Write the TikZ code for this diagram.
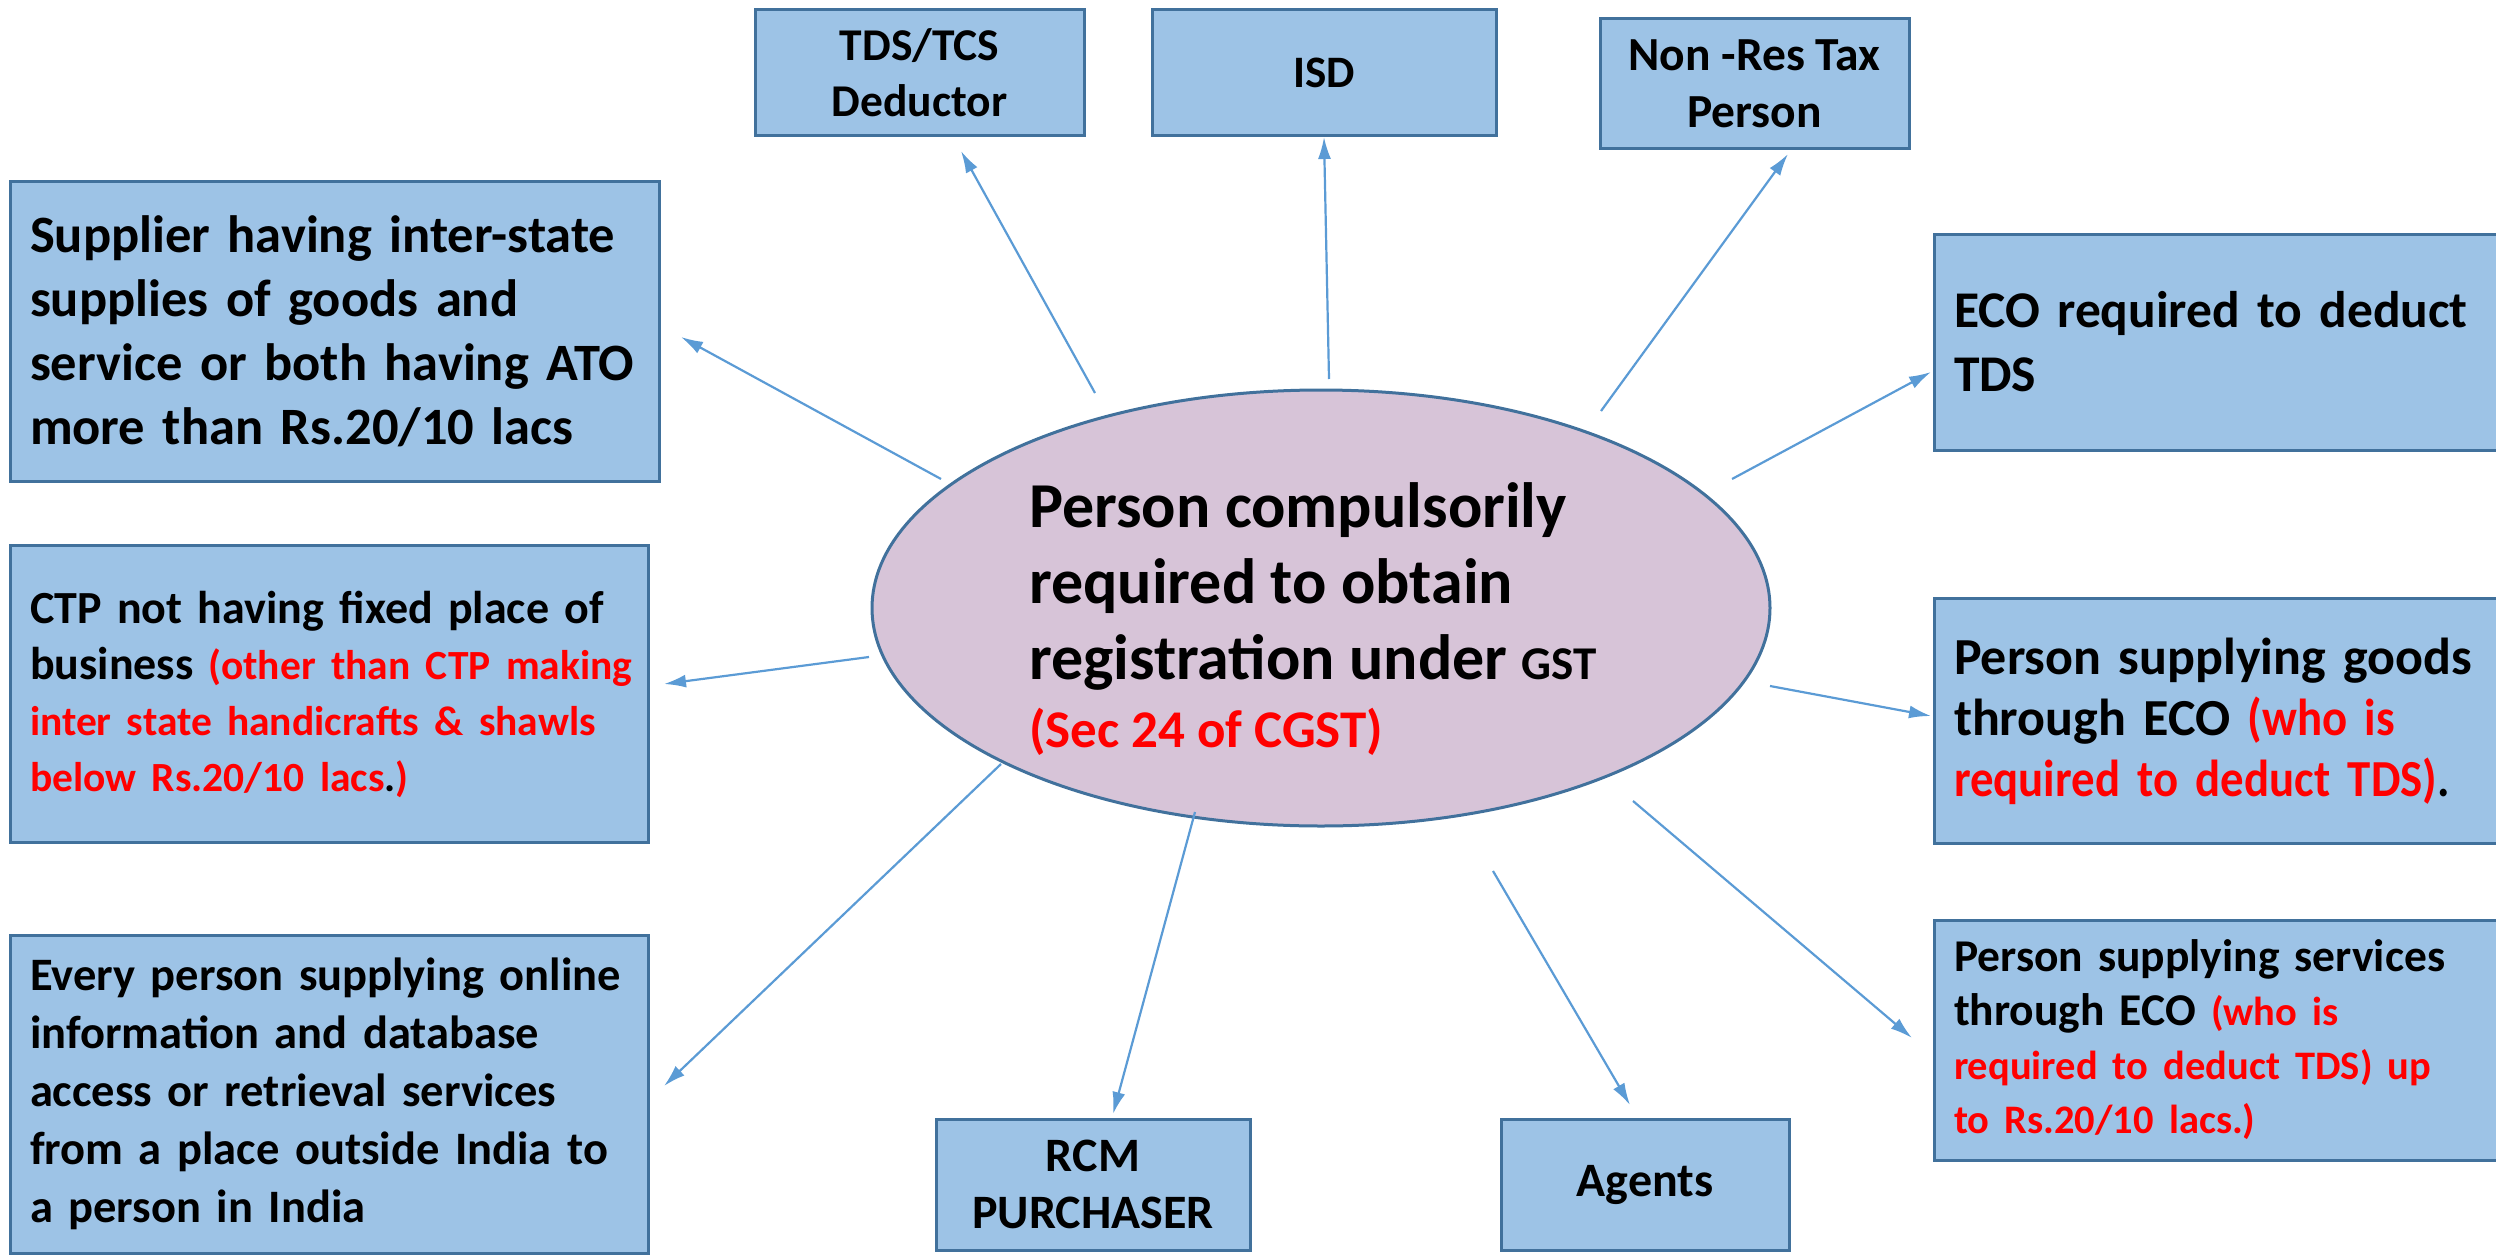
\documentclass[tikz,border=0pt]{standalone}
\usepackage{fontspec}
\setmainfont{Carlito}
\newfontfamily\condfont[FakeStretch=0.9]{Carlito}
\usetikzlibrary{shapes.geometric,arrows.meta}
\definecolor{boxfill}{RGB}{157,195,230}
\definecolor{boxline}{RGB}{65,113,156}
\definecolor{ellfill}{RGB}{215,196,216}
\definecolor{arrowc}{RGB}{91,155,213}
\definecolor{redtxt}{RGB}{255,0,0}
\newcommand{\rd}[1]{\textcolor{redtxt}{#1}}
\newcommand{\lin}[1]{\mbox{#1}}
\tikzset{
  box/.style={draw=boxline, line width=3pt, fill=boxfill, inner sep=0pt, font=\bfseries, anchor=center},
  lbox/.style={box, align=left, inner xsep=20pt},
  cbox/.style={box, align=center},
  conn/.style={draw=arrowc, line width=2.2pt, -{Latex[length=22pt,width=13pt]}}
}
\begin{document}
\begin{tikzpicture}[x=1pt,y=-1pt]
\useasboundingbox (0,0) rectangle (2496,1255);
% central ellipse
\node[ellipse, draw=boxline, line width=3pt, fill=ellfill, minimum width=898pt, minimum height=436pt, inner sep=0pt] (c) at (1321,608) {};
\node[align=left, inner sep=0pt, font=\bfseries\fontsize{64}{76}\selectfont] (ctext) at (1313,619)
 {Person compulsorily\\required to obtain\\registration under {\fontsize{47}{76}\selectfont GST}\\[-8pt]{\fontsize{53}{68}\selectfont\rd{(Sec 24 of CGST)}}};
% top boxes
\node[cbox, minimum width=329pt, minimum height=125pt, font=\bfseries\fontsize{45.5}{56}\selectfont] (tds) at (919.5,72.5) {TDS/TCS\\Deductor};
\node[cbox, minimum width=344pt, minimum height=125pt, font=\bfseries\fontsize{45}{56}\selectfont] (isd) at (1324,72.5) {ISD};
\node[cbox, minimum width=309pt, minimum height=129pt, font=\bfseries\fontsize{47.5}{57}\selectfont] (nonres) at (1754.5,83.5) {Non -Res Tax\\Person};
% left boxes
\node[lbox, text width=609pt, minimum height=300pt, font=\bfseries\fontsize{52.5}{64}\selectfont] (sup) at (334.5,331)
 {\lin{Supplier having inter-state}\\\lin{supplies of goods and}\\\lin{service or both having ATO}\\\lin{more than Rs.20/10 lacs}};
\node[lbox, text width=598pt, minimum height=297pt, font=\bfseries\fontsize{46}{56}\selectfont] (ctp) at (329,694)
 {\lin{CTP not having fixed place of}\\\lin{business {\fontsize{41.5}{56}\selectfont\rd{(other than CTP making}}}\\\lin{\fontsize{41.5}{56}\selectfont\rd{inter state handicrafts \& shawls}}\\\lin{\fontsize{41.5}{56}\selectfont\rd{below Rs.20/10 lacs}.\rd{)}}};
\node[lbox, text width=598pt, minimum height=318pt, font=\bfseries\fontsize{46.5}{58}\selectfont] (every) at (329,1094)
 {\lin{Every person supplying online}\\\lin{information and database}\\\lin{access or retrieval services}\\\lin{from a place outside India to}\\\lin{a person in India}};
% bottom boxes
\node[cbox, minimum width=314pt, minimum height=131pt, font=\bfseries\fontsize{48}{57}\selectfont] (rcm) at (1093,1184.5) {RCM\\PURCHASER};
\node[cbox, minimum width=288pt, minimum height=131pt, font=\bfseries\fontsize{48}{57}\selectfont] (agents) at (1645,1184.5) {Agents};
% right boxes
\node[lbox, text width=536pt, minimum height=216pt, font=\bfseries\fontsize{51.5}{64}\selectfont] (ecoreq) at (2222,342)
 {\lin{ECO required to deduct}\\\lin{TDS}};
\node[lbox, text width=536pt, minimum height=245pt, font=\bfseries\fontsize{52}{61}\selectfont] (goods) at (2222,721)
 {\lin{Person supplying goods}\\\lin{through ECO {\condfont\rd{(who is}}}\\\lin{{\condfont\rd{required to deduct TDS)}.}}};
\node[lbox, text width=536pt, minimum height=240pt, font=\bfseries\fontsize{45.5}{54}\selectfont] (serv) at (2222,1040)
 {\lin{Person supplying services}\\\lin{through ECO {\fontsize{40.5}{54}\selectfont\rd{(who is}}}\\\lin{\fontsize{40.5}{54}\selectfont\rd{required to deduct TDS) up}}\\\lin{\fontsize{40.5}{54}\selectfont\rd{to Rs.20/10 lacs.)}}};
% connector endpoints
\coordinate (s1) at (1095,393);  \coordinate (e1) at (961,151);
\coordinate (s2) at (1329,379);  \coordinate (e2) at (1324,137);
\coordinate (s3) at (1601,411);  \coordinate (e3) at (1788,154);
\coordinate (s4) at (1732,479);  \coordinate (e4) at (1931,372);
\coordinate (s5) at (941,479);   \coordinate (e5) at (681,337);
\coordinate (s6) at (869,657);   \coordinate (e6) at (664,684);
\coordinate (s7) at (1770,686);  \coordinate (e7) at (1931,716);
\coordinate (s8) at (1001,764);  \coordinate (e8) at (664,1086);
\coordinate (s9) at (1195,812);  \coordinate (e9) at (1113,1114);
\coordinate (s10) at (1493,871); \coordinate (e10) at (1630,1105);
\coordinate (s11) at (1633,801); \coordinate (e11) at (1912,1038);
\foreach \i in {1,...,11} { \draw[conn] (s\i) -- (e\i); }
\end{tikzpicture}
\end{document}
